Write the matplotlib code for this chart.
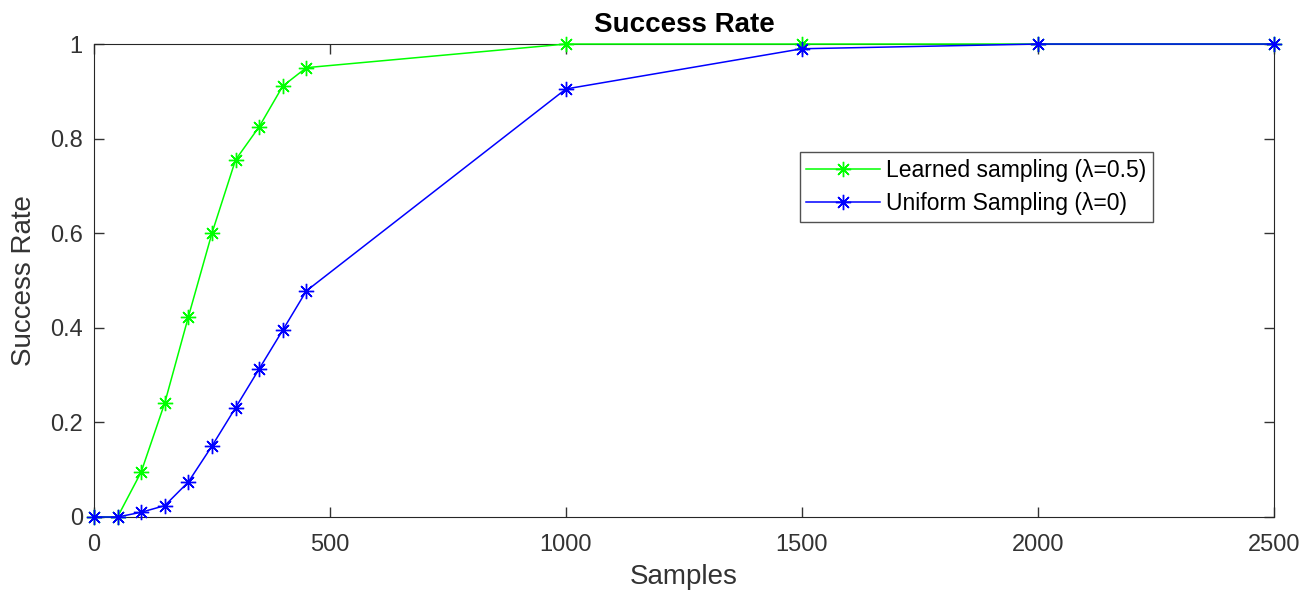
import matplotlib.pyplot as plt

plt.rcParams['font.family'] = ['Liberation Sans', 'DejaVu Sans']

samples = [0, 50, 100, 150, 200, 250, 300, 350, 400, 450, 1000, 1500, 2000, 2500]
learned = [0, 0, 0.095, 0.241, 0.423, 0.600, 0.755, 0.825, 0.911, 0.950, 1.0, 1.0, 1.0, 1.0]
uniform = [0, 0, 0.010, 0.024, 0.074, 0.150, 0.231, 0.313, 0.395, 0.478, 0.905, 0.990, 1.0, 1.0]

fig = plt.figure(figsize=(13.12, 5.99), dpi=100)
ax = fig.add_axes([0.0716, 0.1369, 0.8994, 0.7896])

star = (8, 2, 0)
ax.plot(samples, learned, color='#00ff00', marker=star, markersize=11,
        linewidth=1.1, clip_on=False, zorder=3,
        label='Learned sampling (λ=0.5)')
ax.plot(samples, uniform, color='#0000ff', marker=star, markersize=11,
        linewidth=1.1, clip_on=False, zorder=3,
        label='Uniform Sampling (λ=0)')

ax.set_xlim(0, 2500)
ax.set_ylim(0, 1)
ax.set_xticks([0, 500, 1000, 1500, 2000, 2500])
ax.set_yticks([0, 0.2, 0.4, 0.6, 0.8, 1])
ax.set_yticklabels(['0', '0.2', '0.4', '0.6', '0.8', '1'])

ax.tick_params(direction='in', top=True, right=True, length=7,
               labelsize=17, colors='#333333', width=1)
ax.tick_params(axis='x', pad=12)
ax.tick_params(axis='y', pad=8)
for s in ax.spines.values():
    s.set_color('#262626')

ax.set_xlabel('Samples', fontsize=20, color='#333333', labelpad=6)
ax.set_ylabel('Success Rate', fontsize=20, color='#333333', labelpad=9)
ax.set_title('Success Rate', fontsize=20, fontweight='bold', pad=9)

leg = ax.legend(loc='upper left', bbox_to_anchor=(0.598, 0.772), fontsize=16.5,
                frameon=True, fancybox=False, edgecolor='#262626',
                handlelength=3.2, borderpad=0.3, labelspacing=0.45,
                handletextpad=0.25, borderaxespad=0)
leg.get_frame().set_linewidth(1)

fig.savefig('out.png', dpi=100)
